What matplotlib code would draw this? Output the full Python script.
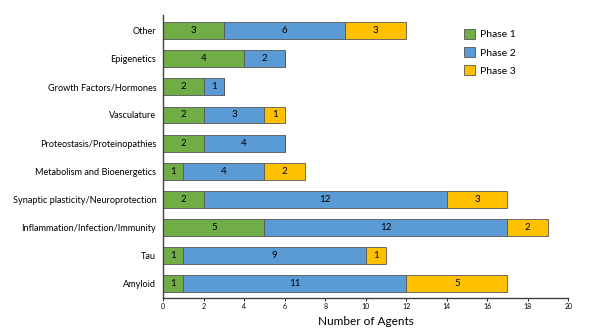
import matplotlib as mpl
mpl.rcParams['font.family'] = 'Lato'
import matplotlib.pyplot as plt
import numpy as np

categories = ['Amyloid', 'Tau', 'Inflammation/Infection/Immunity',
              'Synaptic plasticity/Neuroprotection', 'Metabolism and Bioenergetics',
              'Proteostasis/Proteinopathies', 'Vasculature', 'Growth Factors/Hormones',
              'Epigenetics', 'Other']
phase1 = [1, 1, 5, 2, 1, 2, 2, 2, 4, 3]
phase2 = [11, 9, 12, 12, 4, 4, 3, 1, 2, 6]
phase3 = [5, 1, 2, 3, 2, 0, 1, 0, 0, 3]

series = [('Phase 1', phase1, '#70AD47'),
          ('Phase 2', phase2, '#5B9BD5'),
          ('Phase 3', phase3, '#FFC000')]

fig = plt.figure(figsize=(6, 3.34), dpi=100)
ax = fig.add_axes([0.272, 0.108, 0.675, 0.847])

y = np.arange(len(categories))
left = np.zeros(len(categories))
for name, vals, color in series:
    vals = np.array(vals)
    ax.barh(y, vals, left=left, height=0.6, color=color,
            edgecolor='#555555', linewidth=0.6, label=name)
    for yi, l, v in zip(y, left, vals):
        if v > 0:
            ax.text(l + v / 2, yi, str(v), ha='center', va='center', fontsize=7)
    left = left + vals

ax.set_xlim(0, 20)
ax.set_ylim(-0.5, 9.55)
ax.set_xticks(range(0, 21, 2))
ax.tick_params(axis='x', labelsize=5, length=2, width=0.6, pad=2)
ax.set_yticks(y)
ax.set_yticklabels(categories, fontsize=6.6)
ax.tick_params(axis='y', length=0, pad=5)
ax.spines['top'].set_visible(False)
ax.spines['right'].set_visible(False)
for s in ['left', 'bottom']:
    ax.spines[s].set_linewidth(1.0)
    ax.spines[s].set_color('#404040')
ax.set_xlabel('Number of Agents', fontsize=8.5, labelpad=4)

ax.legend(loc='upper left', bbox_to_anchor=(0.72, 0.985), frameon=False,
          fontsize=7.5, handlelength=1.0, handleheight=1.1, labelspacing=0.75,
          handletextpad=0.5)

plt.savefig('out.png')
